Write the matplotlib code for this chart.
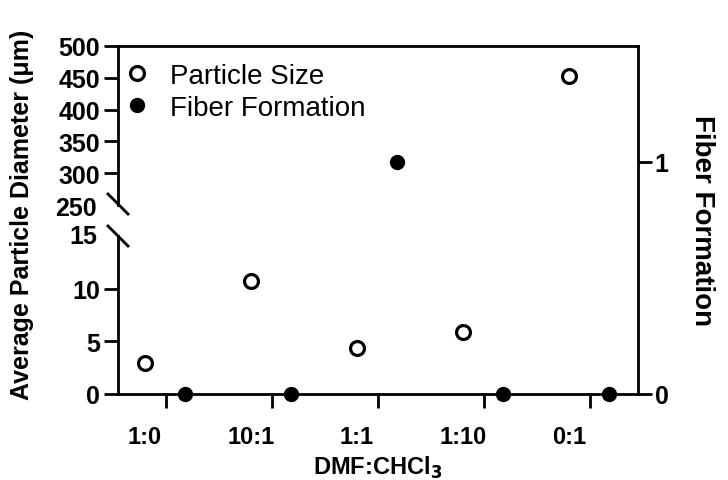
import numpy as np
import matplotlib
matplotlib.use('Agg')
import matplotlib.pyplot as plt

plt.rcParams['font.family'] = ['Liberation Sans', 'DejaVu Sans']

# dados
categorias = ['1:0', '10:1', '1:1', '1:10', '0:1']
tamanho_particula = [2.9, 10.75, 4.4, 5.9, 453]
formacao_fibra = [0, 0, 1, 0, 0]

x = np.arange(len(categorias))
desl_ps = -0.2
desl_ff = 0.18

fig = plt.figure(figsize=(7.28, 4.81), dpi=100)

def fx(px):
    return px / 728

def fy(py):
    return (481 - py) / 481

L, W = fx(118), 520 / 728
lw = 2.0
fs_tick = 18

# eixo completo (fiber formation, direita)
ax_ff = fig.add_axes([L, fy(395), W, 348 / 481])
ax_ff.set_xlim(-0.45, 4.45)
ax_ff.set_ylim(0, 1.5)
ax_ff.spines['left'].set_visible(False)
for s in ['top', 'right', 'bottom']:
    ax_ff.spines[s].set_linewidth(lw)
ax_ff.yaxis.tick_right()
ax_ff.set_yticks([0, 1])
ax_ff.set_xticks(x)
ax_ff.set_xticklabels([''] * len(x))
ax_ff.set_xticks(x + desl_ps, minor=True)
ax_ff.set_xticklabels(categorias, minor=True)
ax_ff.tick_params(axis='x', which='major', length=10, width=lw, direction='out')
ax_ff.tick_params(axis='x', which='minor', length=0, pad=22, labelsize=17)
ax_ff.tick_params(axis='y', length=10, width=lw, labelsize=fs_tick, pad=2)
for t in ax_ff.get_xticklabels(minor=True) + ax_ff.get_yticklabels():
    t.set_fontweight('bold')
ff_line, = ax_ff.plot(x + desl_ff, formacao_fibra, 'o', color='black', ms=10,
                      clip_on=False, zorder=5, label='Fiber Formation')

# eixo quebrado (tamanho de particula, esquerda)
ax_up = fig.add_axes([L, fy(206), W, 159 / 481])
ax_lo = fig.add_axes([L, fy(395), W, 158 / 481])
for ax in [ax_up, ax_lo]:
    ax.patch.set_visible(False)
    for s in ['top', 'right', 'bottom']:
        ax.spines[s].set_visible(False)
    ax.spines['left'].set_linewidth(lw)
    ax.set_xlim(-0.45, 4.45)
    ax.set_xticks([])
    ax.tick_params(axis='y', length=10, width=lw, labelsize=fs_tick, pad=3)
    ps_line, = ax.plot(x + desl_ps, tamanho_particula, 'o', mfc='white', mec='black',
                       mew=2.3, ms=10, zorder=5, label='Particle Size')

ax_up.set_ylim(250, 500)
ax_up.set_yticks([300, 350, 400, 450, 500])
ax_up.set_yticklabels(['300', '350', '400', '450', '500'], fontweight='bold')
ax_lo.set_ylim(0, 15)
ax_lo.set_yticks([0, 5, 10])
ax_lo.set_yticklabels(['0', '5', '10'], fontweight='bold')

# rotulos 250 e 15 na quebra
fig.text(fx(97), fy(209), '250', fontsize=fs_tick, fontweight='bold', ha='right', va='center')
fig.text(fx(97), fy(237), '15', fontsize=fs_tick, fontweight='bold', ha='right', va='center')

# marcas de quebra
d = 10
for yc in [205, 237]:
    fig.add_artist(plt.Line2D([fx(118 - d), fx(118 + d)], [fy(yc - d), fy(yc + d)],
                              color='black', lw=lw))

fig.text(fx(22), fy(215), 'Average Particle Diameter (μm)', fontsize=18,
         fontweight='bold', rotation=90, ha='center', va='center')
fig.text(fx(702), fy(221), 'Fiber Formation', fontsize=20,
         fontweight='bold', rotation=-90, ha='center', va='center')
fig.text(fx(378), fy(475), 'DMF:CHCl$_\\mathbf{3}$', fontsize=17, fontweight='bold',
         ha='center', va='baseline')

fig.legend([ps_line, ff_line], ['Particle Size', 'Fiber Formation'], loc='upper left',
           bbox_to_anchor=(fx(123), fy(64)), frameon=False, fontsize=20,
           handlelength=1.0, handletextpad=0.7, labelspacing=0.2,
           borderpad=0, borderaxespad=0)

fig.savefig('out.png', dpi=100)
